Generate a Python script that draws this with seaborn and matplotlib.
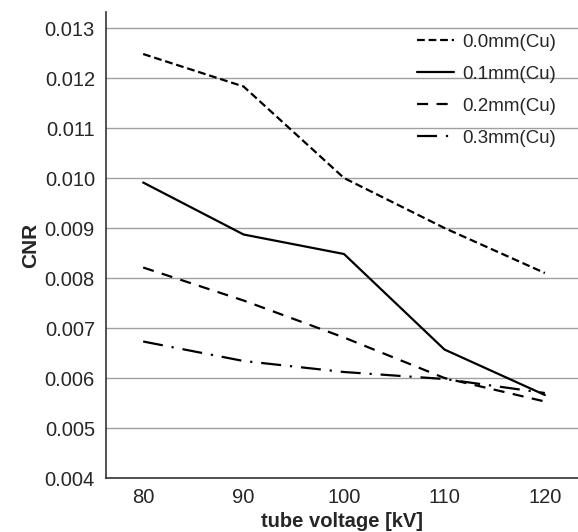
import pandas as pd
import seaborn as sns
import matplotlib
matplotlib.use("Agg")
import matplotlib.pyplot as plt

# values
voltage = [80, 90, 100, 110, 120]
cu_00 = [0.01248, 0.01183, 0.01000, 0.00900, 0.00810]
cu_01 = [0.00991, 0.00887, 0.00848, 0.00657, 0.00566]
cu_02 = [0.00821, 0.00755, 0.00681, 0.00600, 0.00553]
cu_03 = [0.00673, 0.00634, 0.00612, 0.00598, 0.00570]
labels = ["0.0mm(Cu)", "0.1mm(Cu)", "0.2mm(Cu)", "0.3mm(Cu)"]

df = pd.DataFrame({"kV": voltage * 4,
                   "CNR": cu_00 + cu_01 + cu_02 + cu_03,
                   "filter": [l for l in labels for _ in voltage]})

sns.set_style("white")
plt.rcParams["font.family"] = ["Liberation Sans", "DejaVu Sans"]

fig = plt.figure(figsize=(5.78, 5.32), dpi=100)
ax = fig.add_axes([0.1834, 0.1015, 0.8166, 0.8759])

dashes = {labels[0]: (3.5, 1.7), labels[1]: "", labels[2]: (5, 3.8), labels[3]: (9, 4, 1, 4)}
sns.lineplot(data=df, x="kV", y="CNR", hue="filter", style="filter",
             palette=["black"] * 4, dashes=dashes, linewidth=1.6, ax=ax)

ax.set_xlim(76.3, 123.3)
ax.set_ylim(0.004, 0.01332)
ax.set_xticks(voltage)
ax.set_yticks([0.004 + 0.001 * i for i in range(10)])
ax.set_yticklabels([f"{0.004 + 0.001 * i:.3f}" for i in range(10)])
ax.yaxis.grid(True, color="#a0a0a0", linewidth=1)
ax.tick_params(axis="y", length=6, color="#a0a0a0", width=1, labelsize=14.5, pad=2)
ax.tick_params(axis="x", length=0, labelsize=14.5, pad=7)
for s in ["top", "right"]:
    ax.spines[s].set_visible(False)
for s in ["left", "bottom"]:
    ax.spines[s].set_color("#333333")
    ax.spines[s].set_linewidth(1.2)

ax.set_xlabel("tube voltage [kV]", fontsize=14.5, fontweight="bold", labelpad=4)
ax.set_ylabel("CNR", fontsize=15, fontweight="bold", labelpad=3)

ax.legend(title=None, frameon=False, loc="upper right", bbox_to_anchor=(0.99, 0.99),
          fontsize=13.5, handlelength=2.0, labelspacing=0.8, handletextpad=0.45)

fig.savefig("out.png", dpi=100)
